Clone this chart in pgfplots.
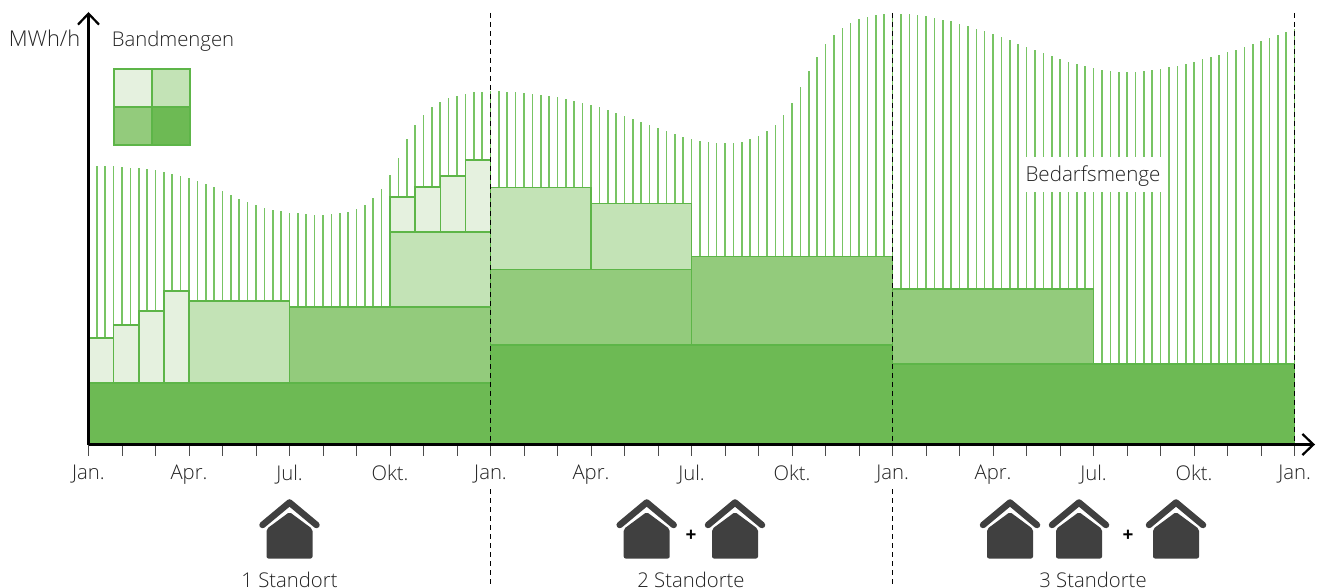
\documentclass[border=0pt]{standalone}
\usepackage{pgfplots}
\usepackage{pgfplotstable}
\pgfplotsset{compat=1.18}
\usepackage{fontspec}
\setmainfont{Open Sans}[UprightFont=* Light,BoldFont=* Bold]
\usetikzlibrary{arrows.meta}
\definecolor{bA}{HTML}{E5F1DF}
\definecolor{bB}{HTML}{C3E3B6}
\definecolor{bC}{HTML}{93CB7C}
\definecolor{bD}{HTML}{6DBA54}
\definecolor{bgreen}{HTML}{5DB548}
\definecolor{lgreen}{HTML}{78C464}
\definecolor{hs}{HTML}{404040}
\definecolor{txt}{HTML}{222222}
\pgfplotstableread{
x y
0.25 278.5
0.5 278.5
0.75 278.2
1 277.5
1.25 276.8
1.5 276.2
1.75 275.2
2 274.2
2.25 272.5
2.5 270.5
2.75 268.5
3 266.2
3.25 263.2
3.5 260.5
3.75 257.2
4 253.5
4.25 249.5
4.5 245.8
4.75 242.5
5 239.5
5.25 236.8
5.5 234.8
5.75 233.2
6 231.8
6.25 231.2
6.5 230.5
6.75 229.8
7 229.8
7.25 230.2
7.5 231.2
7.75 232.5
8 235.2
8.25 239.8
8.5 246.2
8.75 255.8
9 269.5
9.25 286.8
9.5 305.2
9.75 319.5
10 329.5
10.25 337.2
10.5 342.8
10.75 346.2
11 348.8
11.25 350.8
11.5 352.2
11.75 352.8
12 353.2
12.25 353.2
12.5 352.8
12.75 352.5
13 351.8
13.25 350.8
13.5 349.8
13.75 348.5
14 347.2
14.25 345.5
14.5 343.8
14.75 341.8
15 339.5
15.25 337.2
15.5 334.5
15.75 331.8
16 328.8
16.25 325.8
16.5 322.5
16.75 319.5
17 316.2
17.25 313.2
17.5 310.5
17.75 307.8
18 305.5
18.25 303.8
18.5 302.5
18.75 301.5
19 301.2
19.25 301.8
19.5 302.8
19.75 305.2
20 308.2
20.25 313.2
20.5 319.8
20.75 329.2
21 341.2
21.25 357.2
21.5 373.2
21.75 387.8
22 400.2
22.25 409.5
22.5 416.5
22.75 421.5
23 425.2
23.25 427.8
23.5 429.2
23.75 430.2
24 430.5
24.25 430.5
24.5 430.2
24.75 429.5
25 428.2
25.25 426.5
25.5 424.8
25.75 423.2
26 420.8
26.25 418.5
26.5 415.8
26.75 413.2
27 410.2
27.25 407.2
27.5 404.2
27.75 400.8
28 397.5
28.25 394.5
28.5 391.5
28.75 388.5
29 385.5
29.25 382.8
29.5 380.5
29.75 378.2
30 376.2
30.25 374.5
30.5 373.5
30.75 372.5
31 372.2
31.25 372.5
31.5 373.5
31.75 374.5
32 375.5
32.25 377.2
32.5 378.8
32.75 380.8
33 382.8
33.25 385.2
33.5 387.5
33.75 389.5
34 392.2
34.25 394.8
34.5 397.5
34.75 400.2
35 403.2
35.25 406.2
35.5 409.5
35.75 412.5
36 415
}\demand
\newcommand{\house}[1]{%
  \fill[hs,rounded corners=2pt] (#1pt-23pt,-558.5pt) -- (#1pt-23pt,-529pt) -- (#1pt,-512pt) -- (#1pt+23pt,-529pt) -- (#1pt+23pt,-558.5pt) -- cycle;
  \draw[hs,line width=6.5pt,line cap=round,line join=round] (#1pt-27pt,-525pt) -- (#1pt,-502.5pt) -- (#1pt+27pt,-525pt);
}
\newcommand{\block}[5]{\addplot[draw=bgreen,line width=1.5pt,fill=#5] coordinates {(#1,#3) (#2,#3) (#2,#4) (#1,#4)} -- cycle;}
\begin{document}
\begin{tikzpicture}[every node/.style={text=txt,font=\fontsize{20.3}{24}\selectfont}]
\useasboundingbox (0,0) rectangle (1327pt,-588pt);
\begin{axis}[
  at={(88.5pt,-444.5pt)},anchor=south west,
  scale only axis,width=1226.5pt,height=432.5pt,
  xmin=0,xmax=36.61,ymin=0,ymax=432.5,
  axis lines=left,
  axis line style={black,line width=2.2pt,-{Straight Barb[length=11pt,width=21pt,line width=2.2pt]}},
  xtick={0,1,...,36},
  xticklabels={Jan.,,,Apr.,,,Jul.,,,Okt.,,,Jan.,,,Apr.,,,Jul.,,,Okt.,,,Jan.,,,Apr.,,,Jul.,,,Okt.,,,Jan.},
  ytick=\empty,
  tick align=outside,
  major tick length=11pt,
  tick style={draw=black!70,line width=1pt},
  x tick label style={text=txt,font=\fontsize{20.3}{24}\selectfont,yshift=-6pt},
  axis on top,clip=false,
]
\addplot[ycomb,no marks,color=lgreen,line width=1.6pt] table[x=x,y=y] {\demand};
% Jahr 1
\block{0}{12}{0}{61.5}{bD}
\block{0}{0.75}{61.5}{106.5}{bA}
\block{0.75}{1.5}{61.5}{119.5}{bA}
\block{1.5}{2.25}{61.5}{133.5}{bA}
\block{2.25}{3}{61.5}{153.5}{bA}
\block{3}{6}{61.5}{143.5}{bB}
\block{6}{12}{61.5}{137.5}{bC}
\block{9}{12}{137.5}{212.5}{bB}
\block{9}{9.75}{212.5}{247.5}{bA}
\block{9.75}{10.5}{212.5}{257.5}{bA}
\block{10.5}{11.25}{212.5}{268.5}{bA}
\block{11.25}{12}{212.5}{284.5}{bA}
% Jahr 2
\block{12}{24}{0}{99.5}{bD}
\block{12}{18}{99.5}{175}{bC}
\block{18}{24}{99.5}{187.8}{bC}
\block{12}{15}{175}{257.2}{bB}
\block{15}{18}{175}{240.8}{bB}
% Jahr 3
\block{24}{36}{0}{80.5}{bD}
\block{24}{30}{80.5}{155.5}{bC}
\end{axis}
% Legende
\fill[bA] (114pt,-69pt) rectangle (152pt,-107pt);
\fill[bB] (152pt,-69pt) rectangle (190pt,-107pt);
\fill[bC] (114pt,-107pt) rectangle (152pt,-145pt);
\fill[bD] (152pt,-107pt) rectangle (190pt,-145pt);
\draw[bgreen,line width=1.5pt] (114pt,-69pt) rectangle (190pt,-145pt) (152pt,-69pt) -- (152pt,-145pt) (114pt,-107pt) -- (190pt,-107pt);
% gestrichelt
\draw[black,line width=1.3pt,dash pattern=on 5pt off 4pt] (490.5pt,-13pt) -- (490.5pt,-444pt) (892.5pt,-13pt) -- (892.5pt,-444pt) (1294.5pt,-13pt) -- (1294.5pt,-444pt);
\draw[black,line width=1.3pt,dash pattern=on 5pt off 4pt] (490.5pt,-489pt) -- (490.5pt,-588pt) (892.5pt,-489pt) -- (892.5pt,-588pt);
% Texte
\node[anchor=base,font=\fontsize{21.8}{24}\selectfont] at (44.5pt,-47pt) {MWh/h};
\node[anchor=base] at (173pt,-47pt) {Bandmengen};
\node[fill=white,inner sep=0pt,minimum width=140pt,minimum height=35pt] at (1093pt,-174.5pt) {};
\node[anchor=base,font=\fontsize{20.6}{24}\selectfont] at (1093pt,-182pt) {Bedarfsmenge};
% Haeuser
\house{289.5}
\house{646.7}
\house{735}
\house{1010}
\house{1079}
\house{1176}
\node[anchor=center,font=\fontsize{19}{20}\selectfont\bfseries,text=black] at (691pt,-536pt) {+};
\node[anchor=center,font=\fontsize{19}{20}\selectfont\bfseries,text=black] at (1128pt,-536pt) {+};
\node[anchor=base] at (289.5pt,-587pt) {1 Standort};
\node[anchor=base] at (691pt,-587pt) {2 Standorte};
\node[anchor=base] at (1093pt,-587pt) {3 Standorte};
\end{tikzpicture}
\end{document}
